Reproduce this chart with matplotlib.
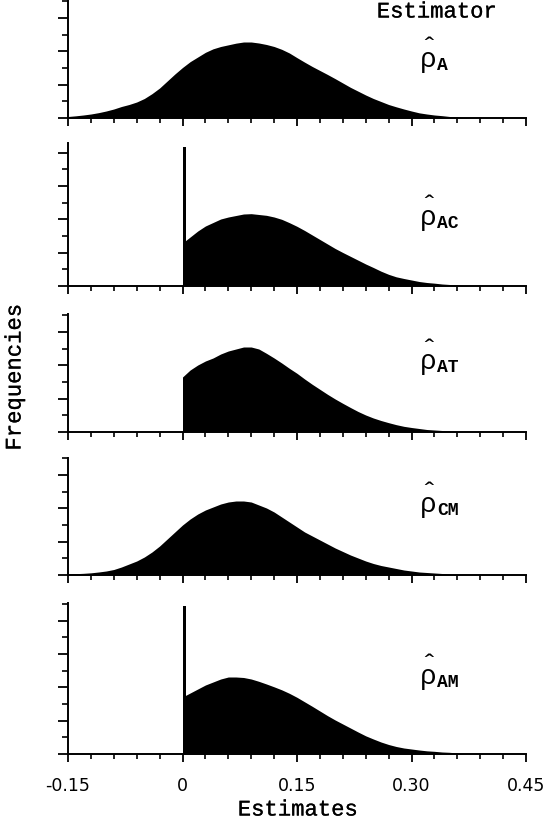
import numpy as np
import matplotlib
matplotlib.use("Agg")
import matplotlib.pyplot as plt
import matplotlib.patheffects as pe
from matplotlib.ticker import MultipleLocator

# estimates grid (bin centres) and frequencies
x_full = np.round(np.arange(-0.15, 0.385, 0.01), 2)   # -0.15 .. 0.38
x_pos = np.round(np.arange(0.0, 0.385, 0.01), 2)      # 0 .. 0.38

freq_a = [9, 13, 18, 24, 32, 42, 54, 69, 81, 96, 117, 146, 180, 222, 264, 303, 338, 366,
          394, 415, 429, 439, 449, 456, 456, 450, 441, 429, 412, 390, 362, 335, 309, 285,
          261, 236, 210, 184, 161, 138, 117, 99, 81, 67, 54, 42, 31, 24, 18, 14, 9, 6, 3, 0]
freq_ac = [258, 294, 330, 360, 381, 402, 414, 423, 432, 434, 429, 424, 414, 400, 380, 358,
           333, 306, 279, 252, 225, 201, 178, 155, 132, 111, 89, 70, 55, 45, 36, 27, 21, 17,
           12, 9, 6, 3, 0]
freq_at = [330, 372, 402, 426, 444, 468, 486, 498, 510, 510, 498, 472, 444, 414, 382, 352,
           318, 286, 256, 226, 198, 172, 147, 123, 102, 84, 69, 56, 44, 34, 27, 21, 15, 12,
           9, 6, 3, 0, 0]
freq_cm = [6, 8, 10, 13, 18, 24, 33, 48, 66, 84, 108, 138, 174, 216, 258, 300, 336, 366,
           390, 408, 426, 438, 444, 444, 438, 420, 402, 378, 348, 318, 288, 258, 234, 210,
           186, 162, 141, 120, 102, 84, 69, 57, 48, 39, 30, 24, 18, 15, 12, 9, 6, 3, 0, 0]
freq_am = [342, 366, 390, 414, 432, 450, 462, 462, 459, 450, 436, 420, 403, 385, 364, 340,
           313, 286, 258, 230, 204, 180, 156, 132, 109, 90, 72, 57, 45, 36, 30, 24, 19, 16,
           12, 10, 6, 0, 0]

# pile-up of estimates exactly at zero (truncated estimators)
spike_ac = 836
spike_am = 888

subscripts = ["A", "AC", "AT", "CM", "AM"]
x_ticks = [-0.15, 0, 0.15, 0.30, 0.45]
x_tick_labels = ["-0.15", "0", "0.15", "0.30", "0.45"]

W, H = 554, 820
fig = plt.figure(figsize=(W / 100, H / 100), dpi=100)

mono = "Liberation Mono"
thick = [pe.withStroke(linewidth=0.15, foreground="black")]

panels = [
    # (x, freq, spike, ylim, top_px, bottom_px)
    (x_full, freq_a, None, 714, 0, 119),
    (x_pos, freq_ac, spike_ac, 858, 144, 287),
    (x_pos, freq_at, None, 708, 315, 433),
    (x_full, freq_cm, None, 702, 459, 576),
    (x_pos, freq_am, spike_am, 906, 604, 755),
]
left, right = 68, 526

for i, (xs, ys, spike, ylim, top, bottom) in enumerate(panels):
    ax = fig.add_axes([left / W, 1 - bottom / H, (right - left) / W, (bottom - top) / H])
    ax.fill_between(xs, 0, ys, color="black", lw=0)
    if spike is not None:
        ax.bar(0, spike, width=0.0045, align="edge", color="black", lw=0)
    ax.set_xlim(-0.15, 0.45)
    ax.set_ylim(0, ylim)
    for s in ["top", "right"]:
        ax.spines[s].set_visible(False)
    for s in ["left", "bottom"]:
        ax.spines[s].set_linewidth(1.4)
    ax.set_xticks(x_ticks)
    ax.xaxis.set_minor_locator(MultipleLocator(0.03))
    ax.yaxis.set_major_locator(MultipleLocator(200))
    ax.yaxis.set_minor_locator(MultipleLocator(100))
    ax.tick_params(axis="x", which="major", length=6, width=1.3, direction="out")
    ax.tick_params(axis="x", which="minor", length=3.5, width=1.2, direction="out")
    ax.tick_params(axis="y", which="major", length=7, width=1.3, direction="out")
    ax.tick_params(axis="y", which="minor", length=4, width=1.2, direction="out")
    ax.set_yticklabels([])
    if i == len(panels) - 1:
        ax.set_xticklabels(x_tick_labels, fontfamily="DejaVu Sans", fontsize=12.5)
        ax.tick_params(axis="x", which="major", pad=10)
    else:
        ax.set_xticklabels([])


def ftext(x, y, s, **kw):
    fig.text(x / W, 1 - y / H, s, **kw)


ftext(437, 13, "Estimator", fontfamily=mono, fontsize=16, ha="center", va="center",
      path_effects=thick)

# hat and rho in one text block, subscript next to it
rho_baselines = [67, 225, 369, 512, 684]
for sub, yb in zip(subscripts, rho_baselines):
    ftext(428, yb, "\u02c6\n\u03c1", fontfamily=mono, fontsize=20, ha="center",
          va="baseline", linespacing=0.25)
    ftext(437, yb + 3, sub, fontfamily=mono, fontsize=13, fontweight="bold",
          ha="left", va="baseline")

ftext(298, 811, "Estimates", fontfamily=mono, fontsize=16, ha="center", va="center",
      path_effects=thick)
ftext(15, 378, "Frequencies", fontfamily=mono, fontsize=16, ha="center", va="center",
      rotation=90, path_effects=thick)

fig.savefig("out.png", dpi=100)
